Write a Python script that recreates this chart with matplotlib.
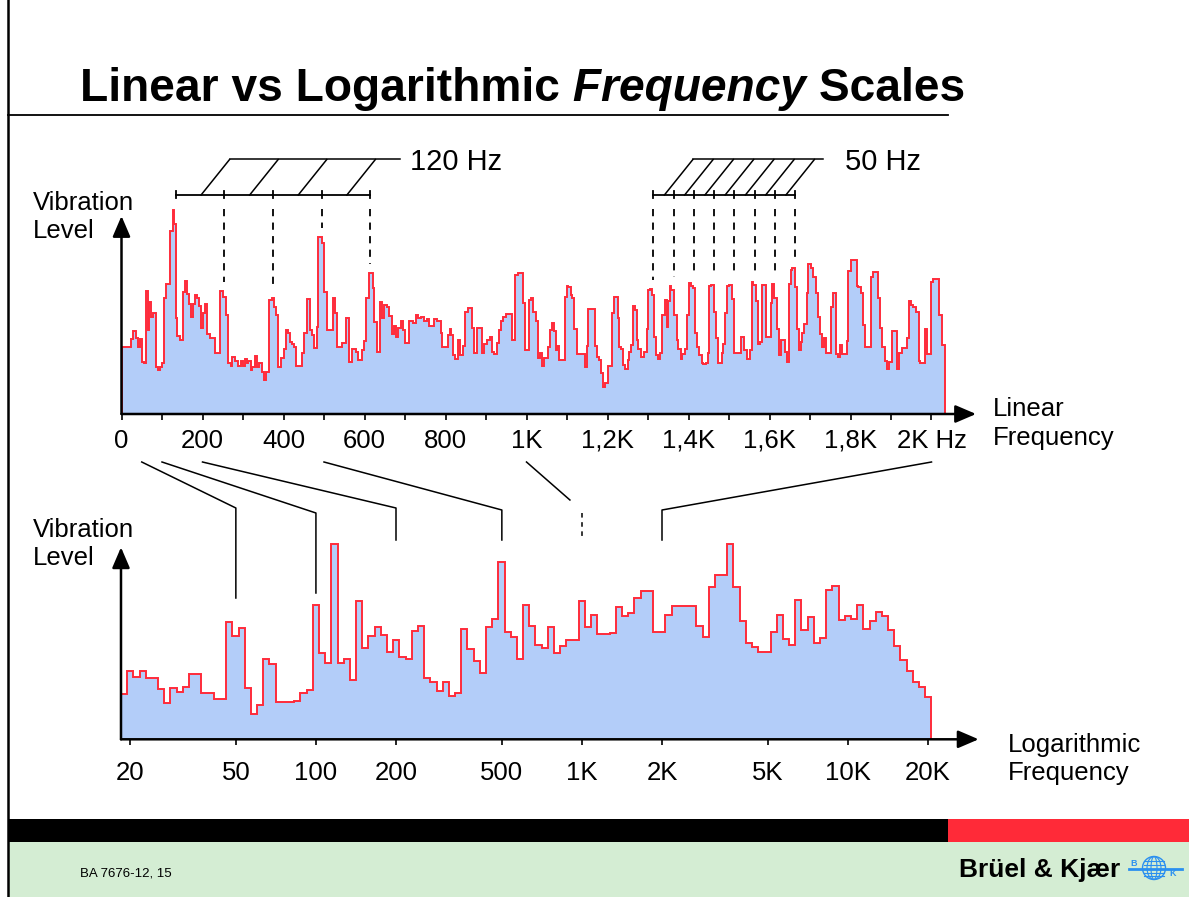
import matplotlib
matplotlib.use('Agg')
import matplotlib.pyplot as plt
import numpy as np
from matplotlib.patches import Rectangle, Circle, Ellipse

plt.rcParams['font.family'] = ['Liberation Sans', 'DejaVu Sans']

W, H = 1189, 897

# narrow band spectrum on linear axis: start of each step (Hz) and level (dB)
lin_freq = [0, 23, 29, 36, 40, 45, 50, 55, 60, 65, 69, 73, 79, 84, 89, 95, 99, 105, 109, 120,
            126, 130, 134, 138, 144, 151, 157, 162, 167, 172, 177, 182, 186, 191, 196, 202, 206, 212, 218, 231,
            242, 251, 257, 264, 270, 274, 280, 287, 295, 301, 305, 309, 313, 320, 323, 330, 335, 340, 346, 353,
            358, 364, 371, 377, 382, 387, 394, 400, 405, 412, 416, 422, 427, 432, 445, 451, 457, 465, 471, 476,
            482, 486, 494, 501, 507, 521, 526, 531, 544, 554, 562, 568, 579, 583, 593, 599, 604, 610, 620, 624,
            630, 638, 644, 649, 655, 661, 667, 673, 678, 682, 690, 696, 700, 711, 719, 726, 733, 740, 748, 754,
            759, 772, 778, 789, 792, 805, 810, 814, 819, 824, 832, 837, 842, 848, 855, 865, 871, 877, 889, 896,
            902, 910, 914, 920, 926, 932, 937, 943, 949, 963, 972, 978, 992, 996, 1006, 1011, 1017, 1023, 1028, 1033,
            1039, 1044, 1052, 1058, 1062, 1068, 1072, 1075, 1080, 1095, 1099, 1103, 1109, 1113, 1118, 1124, 1145, 1149, 1153, 1168,
            1173, 1179, 1184, 1190, 1194, 1200, 1210, 1216, 1225, 1229, 1233, 1239, 1243, 1250, 1253, 1258, 1262, 1268, 1272, 1276,
            1283, 1289, 1297, 1301, 1305, 1311, 1316, 1319, 1324, 1330, 1335, 1342, 1346, 1350, 1354, 1358, 1365, 1371, 1375, 1381,
            1385, 1391, 1397, 1401, 1406, 1412, 1416, 1422, 1426, 1433, 1437, 1442, 1447, 1451, 1456, 1463, 1467, 1472, 1482, 1486,
            1490, 1496, 1501, 1507, 1513, 1530, 1538, 1544, 1552, 1556, 1560, 1567, 1571, 1577, 1581, 1591, 1604, 1607, 1612, 1618,
            1623, 1628, 1638, 1642, 1648, 1652, 1656, 1663, 1669, 1673, 1678, 1681, 1686, 1692, 1696, 1702, 1708, 1714, 1719, 1725,
            1729, 1735, 1740, 1751, 1756, 1763, 1768, 1774, 1778, 1791, 1795, 1801, 1815, 1819, 1826, 1832, 1837, 1850, 1856, 1867,
            1873, 1879, 1885, 1891, 1896, 1902, 1914, 1920, 1926, 1939, 1944, 1949, 1955, 1961, 1968, 1972, 1984, 1990, 1998, 2003,
            2019, 2025]
lin_level = [33.7, 37.3, 41.7, 37.8, 33.7, 37.3, 26.2, 25.3, 61.7, 42.0, 56.2, 48.7, 50.3, 23.7, 22.0, 23.7, 25.3, 57.8, 65.0, 91.7,
             102.0, 95.0, 47.8, 39.0, 37.0, 61.2, 66.5, 60.0, 55.0, 48.7, 55.0, 59.5, 57.8, 54.0, 42.8, 50.3, 55.0, 40.0, 37.8, 30.7,
             61.7, 58.7, 49.5, 25.3, 24.0, 28.7, 26.7, 24.2, 26.7, 24.2, 27.7, 25.7, 26.5, 22.0, 23.7, 29.0, 23.3, 25.3, 20.8, 17.0,
             21.2, 57.0, 57.8, 53.7, 49.5, 23.7, 27.8, 32.3, 42.0, 40.3, 36.2, 35.0, 33.7, 24.2, 30.7, 40.7, 57.3, 42.0, 39.5, 32.8,
             43.7, 88.3, 85.7, 61.2, 42.0, 57.8, 50.7, 33.7, 35.3, 47.8, 26.2, 32.5, 31.2, 27.0, 32.0, 36.7, 57.8, 70.3, 62.8, 46.2,
             31.2, 56.2, 47.8, 54.5, 53.7, 49.0, 40.0, 44.2, 38.3, 42.8, 46.7, 42.0, 35.7, 46.7, 45.3, 49.5, 47.8, 48.3, 46.7, 47.3,
             44.0, 47.3, 46.7, 40.3, 33.3, 39.5, 42.3, 39.5, 29.5, 27.3, 37.0, 29.5, 34.0, 51.2, 52.8, 42.8, 30.3, 43.2, 30.7, 35.0,
             37.0, 38.7, 31.2, 30.0, 35.3, 42.0, 46.7, 48.7, 50.0, 37.0, 69.5, 70.7, 55.3, 32.0, 57.0, 57.8, 51.2, 46.7, 27.8, 30.3,
             24.0, 27.8, 33.3, 42.0, 45.3, 41.7, 32.0, 34.0, 27.0, 58.3, 64.0, 63.3, 59.5, 57.8, 42.3, 30.0, 23.7, 34.0, 52.3, 34.0,
             28.7, 27.0, 20.3, 13.7, 15.3, 24.2, 50.7, 58.7, 47.8, 33.7, 32.3, 24.5, 22.3, 27.0, 31.2, 34.5, 54.0, 52.0, 37.0, 32.3,
             28.7, 31.2, 42.3, 62.0, 62.3, 59.5, 38.7, 29.5, 27.3, 30.7, 49.5, 57.0, 43.3, 56.7, 64.0, 62.0, 49.5, 37.0, 32.3, 27.3,
             30.0, 32.3, 49.5, 65.3, 64.0, 62.8, 40.3, 33.7, 29.5, 25.7, 24.8, 25.7, 30.3, 64.0, 64.5, 51.2, 37.8, 25.3, 30.7, 35.0,
             50.3, 64.0, 64.5, 57.3, 30.3, 38.7, 32.0, 27.3, 32.0, 66.2, 64.5, 56.7, 35.0, 36.2, 64.5, 38.7, 55.3, 65.0, 57.8, 42.3,
             29.5, 37.0, 31.2, 26.2, 65.0, 72.0, 72.8, 63.7, 42.3, 32.0, 36.2, 40.7, 45.0, 60.7, 74.8, 73.2, 68.3, 60.3, 48.3, 40.0,
             33.7, 37.8, 30.7, 53.7, 60.3, 30.0, 28.7, 34.5, 30.0, 36.7, 71.7, 77.0, 64.0, 63.3, 60.7, 44.5, 33.3, 68.3, 71.2, 57.8,
             42.8, 33.7, 26.7, 22.3, 26.2, 41.7, 22.3, 30.3, 32.8, 37.8, 56.7, 54.5, 53.3, 51.2, 26.7, 25.3, 42.3, 30.0, 66.2, 67.3,
             49.5, 34.5]
lin_fmax = 2033

# fractional octave spectrum on log axis, equal log-width bands
log_level = [22.5, 34.2, 31.4, 34.2, 30.5, 30.5, 25.0, 18.0, 25.8, 23.9, 26.4, 32.5, 32.5, 23.0, 23.0, 20.2, 20.2,
             58.5, 51.4, 55.5, 25.8, 12.5, 17.2, 40.0, 37.5, 18.9, 18.9, 18.9, 19.2, 23.0, 24.7, 67.2,
             43.0, 38.4, 97.7, 38.4, 40.2, 29.7, 68.9, 45.5, 51.7, 55.9, 51.9, 43.9, 49.7, 41.4, 40.2, 54.2, 56.7,
             30.5, 28.5, 24.4, 28.5, 21.5, 23.0, 54.9, 45.2, 39.2, 33.4, 56.2, 60.2, 88.5, 53.4, 51.0, 40.0, 67.2,
             56.7, 47.2, 45.9, 55.9, 43.0, 46.9, 49.4, 49.4, 68.9, 55.9, 61.9, 52.5, 52.5, 52.9, 65.9, 61.4, 62.9,
             70.5, 73.9, 73.9, 53.5, 53.5, 61.9, 66.7, 66.7, 66.7, 66.7, 56.5, 50.9, 76.2, 81.9, 81.9, 97.7, 75.9,
             59.2, 48.0, 46.0, 43.5, 43.5, 53.4, 62.2, 50.2, 47.2, 69.7, 54.4, 61.2, 48.0, 50.4, 74.7, 76.7,
             59.4, 61.4, 60.2, 67.2, 55.2, 59.2, 63.4, 61.7, 54.5, 46.7, 39.5, 34.2, 28.5, 26.0, 21.2]
log_fmin, log_fmax = 18.5, 20600

lin_ticks = list(range(0, 2001, 100))
lin_ticklabels = {0: '0', 200: '200', 400: '400', 600: '600', 800: '800', 1000: '1K',
                  1200: '1,2K', 1400: '1,4K', 1600: '1,6K', 1800: '1,8K', 2000: '2K Hz'}
log_ticks = [20, 50, 100, 200, 500, 1000, 2000, 5000, 10000, 20000]
log_ticklabels = ['20', '50', '100', '200', '500', '1K', '2K', '5K', '10K', '20K']

harm_120 = [134, 254, 374, 494, 614]
harm_50 = [1313, 1363, 1413, 1463, 1513, 1563, 1613, 1663]
mapped_freqs = [50, 100, 200, 500, 1000, 2000]

FILL = '#b3cdf9'
EDGE = '#ff2b3a'
BLUE = '#2a8ff0'

fig = plt.figure(figsize=(W / 100, H / 100), dpi=100)


def px_axes(x0, x1, y0, y1):
    a = fig.add_axes([x0 / W, 1 - y1 / H, (x1 - x0) / W, (y1 - y0) / H])
    a.patch.set_visible(False)
    return a


def to_px(a, x, y):
    dx, dy = a.transData.transform((x, y))
    return dx, H - dy


bg = px_axes(0, W, 0, H)
bg.set_xlim(0, W)
bg.set_ylim(H, 0)
bg.axis('off')

# slide frame, footer
bg.plot([8, 8], [0, H], color='black', lw=1.8)
bg.plot([8, 948], [115, 115], color='black', lw=1.3)
bg.add_patch(Rectangle((8, 819), 940, 23, color='black', lw=0))
bg.add_patch(Rectangle((948, 819), W - 948, 23, color='#ff2a38', lw=0))
bg.add_patch(Rectangle((9, 842), W - 9, H - 842, color='#d4edd3', lw=0))
bg.text(80, 876, 'BA 7676-12, 15', fontsize=9.5, va='baseline')
bg.text(959, 877, 'Brüel & Kjær', fontsize=19, fontweight='bold', va='baseline')
bg.add_patch(Circle((1154, 868), 11.5, fill=False, ec=BLUE, lw=1))
for w in [6, 14]:
    bg.add_patch(Ellipse((1154, 868), w, 23, fill=False, ec=BLUE, lw=0.8))
for yy in [861, 865, 873, 876]:
    bg.plot([1144, 1164], [yy, yy], color=BLUE, lw=0.8)
bg.plot([1129, 1182], [869, 869], color=BLUE, lw=2)
bg.text(1134, 866, 'B', fontsize=6.5, color=BLUE, ha='center', va='baseline', fontweight='bold')
bg.text(1173, 876, 'K', fontsize=6.5, color=BLUE, ha='center', va='baseline', fontweight='bold')

# title with italic word
renderer = fig.canvas.get_renderer()
x = 80
for part, style in [('Linear vs Logarithmic', 'normal'), (' Frequency', 'italic'), (' Scales', 'normal')]:
    t = bg.text(x, 101, part, fontsize=33.2, fontweight='bold', fontstyle=style, va='baseline')
    x += t.get_window_extent(renderer=renderer).width

# axes for the two spectra
ax1 = px_axes(115, 1000, 204, 414)
ax1.set_xlim((115 - 121.5) / 0.405, (1000 - 121.5) / 0.405)
ax1.set_ylim(0, 105)

ax2 = px_axes(115, 1000, 529.3, 739.3)
ax2.set_xscale('log')
ax2.set_xlim(20 * 10 ** ((115 - 130) / 266), 20 * 10 ** ((1000 - 130) / 266))
ax2.set_ylim(0, 105)

lin_edges = lin_freq + [lin_fmax]
ax1.stairs(lin_level, lin_edges, baseline=0, fill=True, color=FILL, lw=0)
ax1.stairs(lin_level, lin_edges, baseline=0, color=EDGE, lw=1.4)

log_edges = np.geomspace(log_fmin, log_fmax, len(log_level) + 1)
ax2.stairs(log_level, log_edges, baseline=0, fill=True, color=FILL, lw=0)
ax2.stairs(log_level, log_edges, baseline=0, color=EDGE, lw=1.4)

arrow = dict(arrowstyle='-|>,head_length=0.7,head_width=0.3', color='black', lw=1.8,
             mutation_scale=18, shrinkA=0, shrinkB=0)
ax1.annotate('', xy=(2110, 0), xytext=(0, 0), arrowprops=arrow, annotation_clip=False)
ax1.annotate('', xy=(0, 99), xytext=(0, 0), arrowprops=arrow, annotation_clip=False)
ax2.annotate('', xy=(31000, 0), xytext=(log_fmin, 0), arrowprops=arrow, annotation_clip=False)
ax2.annotate('', xy=(log_fmin, 96), xytext=(log_fmin, 0), arrowprops=arrow, annotation_clip=False)

for a in (ax1, ax2):
    for s in a.spines.values():
        s.set_visible(False)
    a.set_yticks([])
    a.minorticks_off()

ax1.set_xticks(lin_ticks, [lin_ticklabels.get(t, '') for t in lin_ticks])
ax1.tick_params(axis='x', length=4.5, width=1.2, pad=6, labelsize=18.5)
ax2.set_xticks(log_ticks, log_ticklabels)
ax2.xaxis.set_minor_locator(matplotlib.ticker.NullLocator())
ax2.tick_params(axis='x', length=4.5, width=1.2, pad=11, labelsize=18.5)

# axis titles
bg.text(33, 210, 'Vibration', fontsize=18.5, va='baseline')
bg.text(33, 238, 'Level', fontsize=18.5, va='baseline')
bg.text(33, 537, 'Vibration', fontsize=18.5, va='baseline')
bg.text(33, 565, 'Level', fontsize=18.5, va='baseline')
bg.text(993, 416, 'Linear', fontsize=18.5, va='baseline')
bg.text(993, 445, 'Frequency', fontsize=18.5, va='baseline')
bg.text(1008, 752, 'Logarithmic', fontsize=18.5, va='baseline')
bg.text(1008, 780, 'Frequency', fontsize=18.5, va='baseline')


# harmonic brackets and dashed lines
def peak_near(f, half=10):
    best = 0
    for i, lev in enumerate(lin_level):
        if lin_edges[i] < f + half and lin_edges[i + 1] > f - half:
            best = max(best, lev)
    return best


def bracket(harm, label, ext, gap, dashed_from):
    xs = [to_px(ax1, f, 0)[0] for f in harm]
    bg.plot([xs[0], xs[-1]], [195, 195], color='black', lw=1.3)
    for xx in xs:
        bg.plot([xx, xx], [191.5, 198.5], color='black', lw=1.3)
    tops = []
    for a, b in zip(xs[:-1], xs[1:]):
        x0 = (a + b) / 2 + 1
        bg.plot([x0, x0 + 28.5], [195, 159.5], color='black', lw=1.1)
        tops.append(x0 + 28.5)
    bg.plot([tops[0], tops[-1] + ext], [159.5, 159.5], color='black', lw=1.1)
    bg.text(tops[-1] + ext + gap, 170, label, fontsize=21, va='baseline')
    for f in harm[dashed_from:]:
        xx, yp = to_px(ax1, f, peak_near(f))
        bg.plot([xx, xx], [209, yp - 9], color='black', lw=1.3, ls=(0, (4, 3.5)))


bracket(harm_120, '120 Hz', 25, 10, 1)
bracket(harm_50, '50 Hz', 9, 22, 0)

# connectors linear -> log axis
elbow = [508, 513, 508, 510, 500, 510]
ends = [598, 593, 540, 540, 540, 540]
for f, ye, yend in zip(mapped_freqs, elbow, ends):
    xt = to_px(ax1, f, 0)[0]
    xb = to_px(ax2, f, 0)[0]
    if f == 1000:
        bg.plot([xt, xb - 12], [462, ye], color='black', lw=1.1)
        bg.plot([xb, xb], [513, yend], color='black', lw=1.1, ls=(0, (3, 3)))
    else:
        bg.plot([xt, xb, xb], [462, ye, yend], color='black', lw=1.1)

fig.savefig('out.png', dpi=100)
